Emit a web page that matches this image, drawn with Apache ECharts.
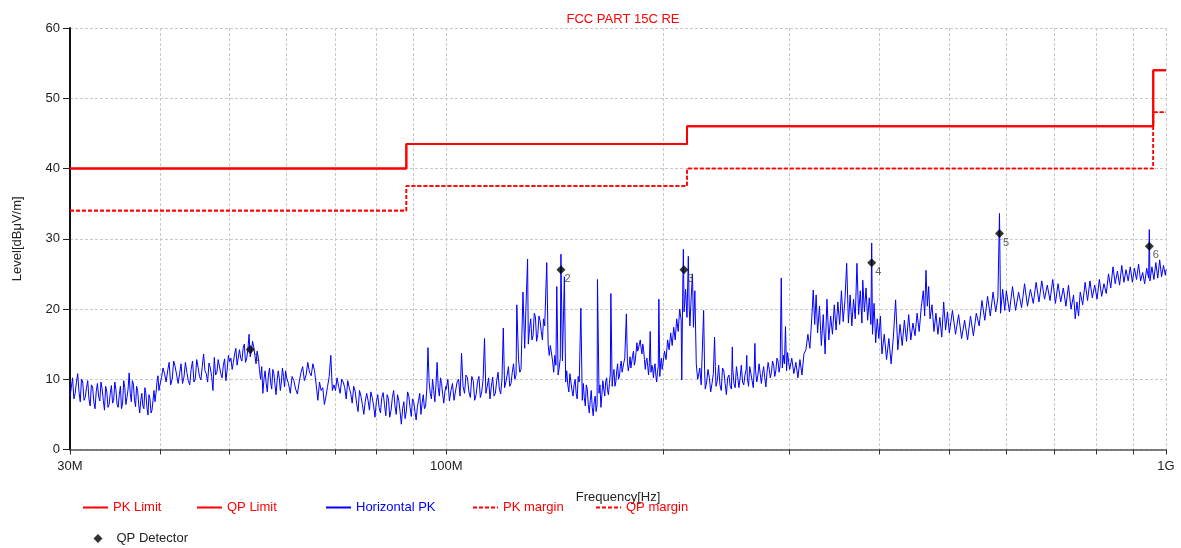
<!DOCTYPE html>
<html>
<head>
<meta charset="utf-8">
<script src="https://cdn.jsdelivr.net/npm/echarts@6/dist/echarts.min.js"></script>
<style>html,body{margin:0;padding:0;background:#fff}#c{width:1181px;height:548px}</style>
</head>
<body>
<div id="c"></div>
<script>
// Frequencies in MHz, levels in dBµV/m
const pkLimit = [[30,40],[88,40],[88,43.5],[216,43.5],[216,46],[960,46],[960,54],[1000,54]];
const qpLimit = [[30,40],[88,40],[88,43.5],[216,43.5],[216,46],[960,46],[960,54],[1000,54]];
const pkMargin = [[30,34],[88,34],[88,37.5],[216,37.5],[216,40],[960,40],[960,48],[1000,48]];
const qpMargin = [[30,34],[88,34],[88,37.5],[216,37.5],[216,40],[960,40],[960,48],[1000,48]];
const qpDetector = [[53.4,14.25,'1'],[144.3,25.6,'2'],[213.9,25.6,'3'],[390,26.6,'4'],[587,30.75,'5'],[948,28.95,'6']];
const xTickValues = [30,40,50,60,70,80,90,100,200,300,400,500,600,700,800,900,1000];
const xLabelValues = [30,100,1000];
const yTicks = [0,10,20,30,40,50,60];

// Horizontal PK trace (main samples)
const horizontalPK = [
[30,7.5],[30.25,10.2],[30.5,8.0],[30.75,10.8],[31,6.8],[31.25,9.6],[31.5,7.4],[31.75,9.8],[32,6.2],[32.25,8.9],[32.5,5.8],[32.75,9.4],[33,6.9],[33.25,8.6],[33.5,5.6],[33.75,8.2],[34,6.4],[34.25,9.1],[34.5,7.0],[34.75,8.5],[35,6.0],[35.25,9.0],[35.5,6.6],[35.75,8.8],[36,7.4],[36.25,10.9],[36.5,6.8],[36.75,9.3],[37,6.1],[37.25,8.4],[37.5,5.2],[37.75,8.0],[38,5.8],[38.25,7.9],[38.5,4.9],[38.75,7.2],[39,5.6],[39.25,8.4],[39.5,8.0],[39.75,10.5],[40,9.2],
[40.4,11.6],[40.8,9.6],[41.2,12.4],[41.6,10.0],[42,11.8],[42.4,9.4],[42.8,12.2],[43.2,10.3],[43.6,11.0],[44,9.2],[44.4,12.6],[44.8,10.1],[45.2,11.7],[45.6,9.9],[46,13.6],[46.4,10.8],[46.8,12.3],[47.2,10.4],[47.6,13.1],[48,11.0],[48.4,12.6],[48.8,10.2],[49.2,12.9],[49.6,11.3],[50,12.5],
[50.4,11.4],[50.8,13.6],[51.2,12.0],[51.6,14.2],[52,12.6],[52.4,15.0],[52.8,13.0],[53.2,16.4],[53.6,14.0],[54,14.6],[54.4,12.2],[54.8,13.1],
[55.2,10.0],[55.6,8.0],[56,11.2],[56.4,8.2],[56.8,11.6],[57.2,8.6],[57.6,10.8],[58,7.8],[58.4,11.2],[58.8,8.4],[59.2,11.6],[59.6,8.9],[60,10.2],
[60.7,8.0],[61.4,9.8],[62.1,7.9],[62.8,10.9],[63.5,9.8],[64.2,12.4],[64.9,10.5],[65.6,11.2],[66.3,7.0],[67,8.4],[67.7,6.4],[68.4,9.0],[69.1,13.4],[69.8,9.2],
[70.5,10.2],[71.2,8.0],[71.9,9.6],[72.6,7.2],[73.3,8.8],[74,6.6],[74.7,8.3],[75.4,5.4],[76.1,7.6],[76.8,5.0],[77.5,8.0],[78.2,5.6],[78.9,7.4],[79.6,4.6],
[80.3,7.8],[81,5.2],[81.7,8.1],[82.4,4.8],[83.1,7.2],[83.8,5.6],[84.5,8.4],[85.2,5.0],[85.9,7.0],[86.6,3.6],[87.3,6.8],[88,5.5],[88.7,7.6],[89.4,4.7],
[90.1,6.8],[90.8,4.2],[91.5,7.0],[92.2,5.0],[92.9,7.8],[93.6,6.2],[94.3,14.5],[95,8.0],[95.7,10.0],[96.4,6.8],[97.1,12.4],[97.8,7.6],[98.5,9.4],[99.2,6.6],[99.9,9.0],
[100,8.6],[101,6.9],[102,9.4],[103,7.2],[104,10.0],[105,13.7],[106,8.0],[107,10.2],[108,7.4],[109,9.8],[110,7.8],[111,10.4],[112,8.2],[113,15.8],[114,9.0],[115,7.2],[116,10.3],[117,8.0],[118,11.0],[119,7.9],[120,17.3],[121,9.6],[122,11.8],[123,9.4],[124,12.2],[125,10.6],[125.3,20.6],[126,12.8],[127,11.4],[127.8,22.4],[128.5,14.4],[129,20.0],[129.7,27.1],[130,15.0],[131,18.6],[132,16.2],[133,18.9],[134,16.4],[135,18.3],[136,15.6],[137,17.6],[137.9,26.6],[138.5,15.0],[139,13.4],[140,14.6],[141,11.0],[142,12.0],[142.4,23.2],[143,10.6],[144,13.0],[144.3,27.8],[145,12.6],[145.9,24.6],[146.5,9.6],[147,11.2],[148,8.2],[149,10.6],[150,7.6],[151,10.0],[152,7.2],[153,9.6],[153.8,20.1],[154.5,7.0],[155,9.4],[156,6.2],[157,8.6],[158,5.2],[159,8.4],[160,4.8],[161,7.6],[162,6.4],[162.2,24.2],[163,8.0],[164,6.0],[165,9.8],[166,7.6],[167,10.2],[168,7.8],[169,10.8],[169.3,22.2],[170,9.0],[171,11.4],[172,9.6],[173,12.2],[174,10.4],[175,12.6],[176,10.8],[177,13.0],[177.9,19.3],[179,11.2],[180,13.2],[181,11.8],[182,14.0],[183,12.6],[184,15.2],[185,13.8],[186,15.6],[187,13.6],[188,14.2],[189,11.4],[190,13.0],[191,10.6],[192,16.8],[193,12.0],[194,10.2],[195,12.2],[196,9.6],[197,11.8],[197.4,21.4],[198,10.4],[199,13.0],[200,12.2],
[201,14.0],[202,12.8],[203,15.6],[204,14.2],[205,16.6],[206,14.8],[207,17.4],[208,15.6],[209,18.6],[210,16.8],[211,20.0],[212,18.4],[212.4,9.9],[213,21.6],[213.5,28.5],[214,19.6],[215,22.8],[216,18.8],[216.9,27.5],[217.5,20.4],[218,17.6],[219,22.0],[219.8,25.0],[220.5,17.4],[221.5,22.6],[222.5,12.2],[223.5,10.0],[225,11.6],[226,9.2],[227.8,19.8],[229,8.6],[231,11.4],[233,8.2],[235,10.8],[235.9,16.0],[237,9.0],[239,12.0],[241,8.4],[243,11.2],[245,7.8],[247,10.6],[249,8.6],[249.7,14.6],[251,9.4],[253,11.8],[255,8.8],[257,12.0],[259,9.2],[261,11.4],[261.5,13.4],[263,9.0],[265,11.6],[267,8.8],[268.4,15.1],[270,9.6],[272,12.2],[274,9.4],[276,11.8],[278,8.9],[280,12.4],[282,10.2],[284,12.6],[286,10.4],[288,13.0],[290,11.0],[292,24.4],[293,11.6],[294,13.4],[296,17.5],[297,11.2],[298,13.8],[300,11.4],
[302,13.0],[304,10.8],[306,12.4],[308,10.2],[310,12.8],[312,10.6],[314,13.6],[316,14.2],[318,16.4],[320,14.4],[322,18.8],[323.5,22.7],[325,17.8],[326.5,22.0],[328,16.6],[330,20.4],[332,14.8],[334,19.2],[336,13.6],[338,21.4],[340,15.6],[342,19.0],[344,16.4],[346,20.6],[348,17.0],[350,21.0],[352,17.8],[354,22.6],[356,18.2],[358,21.2],[360,26.5],[362,18.0],[364,22.0],[366,17.6],[368,21.4],[370,18.6],[372,26.5],[374,19.2],[376,22.6],[378,18.0],[379,24.1],[381,19.6],[383,23.0],[385,18.4],[387,21.6],[389,17.8],[390,29.4],[391,16.4],[393,20.8],[395,15.2],[397,18.6],[399,15.8],[401,19.0],
[403,13.6],[406,16.4],[409,12.8],[412,15.8],[415,12.2],[418,16.0],[421,21.3],[424,14.2],[427,17.8],[430,14.8],[433,18.4],[436,15.4],[439,19.2],[442,15.6],[445,18.0],[448,16.2],[451,19.4],[454,16.8],[457,20.2],[460,22.6],[462,19.0],[464,25.5],[466,20.4],[468,23.2],[470,18.6],[473,20.6],[476,16.8],[479,19.4],[482,16.4],[485,18.8],[488,16.0],[491,21.0],[494,17.0],[497,19.6],[500,16.6],
[505,19.8],[510,16.4],[515,19.2],[520,15.8],[525,18.4],[530,15.6],[535,19.0],[540,16.2],[545,19.4],[550,17.6],[555,21.2],[560,18.4],[565,21.8],[570,19.0],[575,22.4],[580,19.6],[584,21.6],[587,33.6],[589,19.4],[593,22.8],[597,19.8],
[600,22.6],[606,19.6],[612,23.2],[618,19.8],[624,22.4],[630,20.2],[636,23.6],[642,20.4],[648,22.8],[654,20.8],[660,23.8],[666,21.0],[672,24.0],[678,21.4],[684,23.4],[690,21.2],[696,24.2],[702,20.8],[708,23.6],[714,21.0],[720,23.0],[726,20.4],[732,23.4],[738,20.0],[744,22.0],[748,18.6],[752,21.0],[756,19.0],[760,22.4],[766,20.6],[772,23.8],[778,21.2],[784,24.0],[790,21.6],[796,23.4],[802,21.4],[808,24.2],[814,21.8],[820,23.6],[826,22.2],[832,25.0],[838,23.0],[844,26.0],[850,23.6],[856,25.4],[862,23.4],[868,26.2],[874,23.8],[880,25.6],[886,24.0],[892,26.0],[898,23.8],[904,25.8],[910,24.2],[916,26.4],[922,24.0],[928,25.2],[934,23.6],[940,25.8],[946,24.4],[948,31.3],[950,24.0],[956,26.0],[962,24.2],[968,26.6],[974,24.4],[980,27.0],[986,24.6],[992,26.2],[998,24.8],[1000,25.6]
];

// Extra in-between samples of the same trace (denser noise band)
const horizontalPKExtra = [
[30.125,8.8],[30.375,7.2],[30.625,9.6],[30.875,8.2],[31.125,10.0],[31.375,7.0],[31.625,8.8],[31.875,7.2],[32.125,9.2],[32.375,6.8],[32.625,8.2],[32.875,7.6],[33.125,9.6],[33.375,7.0],[33.625,9.0],[33.875,6.0],[34.125,8.0],[34.375,6.6],[34.625,9.6],[34.875,6.4],[35.125,7.8],[35.375,5.8],[35.625,9.8],[35.875,6.4],[36.125,8.6],[36.375,8.0],[36.625,9.8],[36.875,7.0],[37.125,9.0],[37.375,6.4],[37.625,7.0],[37.875,6.2],[38.125,8.8],[38.375,6.0],[38.625,7.8],[38.875,5.2],[39.125,7.0],[39.375,6.8],[39.625,9.6],[39.875,8.4],
[40.2,10.2],[40.6,10.8],[41.0,11.2],[41.4,9.2],[41.8,12.6],[42.2,10.6],[42.6,10.8],[43.0,9.4],[43.4,12.4],[43.8,9.8],[44.2,11.4],[44.6,9.6],[45.0,12.8],[45.4,10.4],[45.8,11.8],[46.2,11.2],[46.6,9.6],[47.0,11.6],[47.4,8.4],[47.8,10.6],[48.2,12.8],[48.6,10.8],[49.0,12.0],[49.4,9.8],[49.8,13.4],
[50.2,13.0],[50.6,12.4],[51.0,14.4],[51.4,11.8],[51.8,13.0],[52.2,14.4],[52.6,12.4],[53.0,14.2],[53.4,13.2],[53.8,15.4],[54.2,13.4],[54.6,14.0],[55.0,11.4],
[55.4,11.8],[55.8,10.0],[56.2,9.4],[56.6,10.6],[57.0,9.6],[57.4,11.4],[57.8,9.2],[58.2,9.8],[58.6,10.2],[59.0,9.6],[59.4,10.4],[59.8,11.2],
[60.35,9.4],[61.05,10.4],[61.75,8.6],[62.45,9.6],[63.15,11.8],[63.85,10.6],[64.55,11.0],[65.25,12.2],[65.95,9.2],[66.65,9.6],[67.35,8.8],[68.05,7.6],[68.75,10.4],[69.45,8.4],
[70.15,8.4],[70.85,9.0],[71.55,10.0],[72.25,8.8],[72.95,9.8],[73.65,8.0],[74.35,9.0],[75.05,6.6],[75.75,8.4],[76.45,6.4],[77.15,6.8],[77.85,7.0],[78.55,8.2],[79.25,6.2],[79.95,6.8],
[80.65,6.0],[81.35,7.4],[82.05,6.4],[82.75,7.8],[83.45,4.6],[84.15,7.4],[84.85,6.2],[85.55,7.8],[86.25,5.4],[86.95,5.8],[87.65,4.4],[88.35,8.2],[89.05,6.0],[89.75,7.2],
[90.45,5.4],[91.15,6.0],[91.85,8.0],[92.55,6.6],[93.25,5.8],[93.95,8.6],[94.65,9.6],[95.35,7.2],[96.05,8.4],[96.75,9.2],[97.45,8.8],[98.15,10.2],[98.85,7.8],[99.55,8.2],
[100.5,10.0],[101.5,8.4],[102.5,7.0],[103.5,9.6],[104.5,7.6],[105.5,9.0],[106.5,10.6],[107.5,8.2],[108.5,10.4],[109.5,7.0],[110.5,9.6],[111.5,7.4],[112.5,10.0],[113.5,8.0],[114.5,10.2],[115.5,9.0],[116.5,7.6],[117.5,9.8],[118.5,8.6],[119.5,10.0],[120.5,8.8],[121.5,10.6],[122.5,9.0],[123.5,11.0],[124.5,10.0],
[126.5,11.0],[130.5,17.2],[131.5,15.6],[132.5,19.4],[133.5,15.4],[134.5,19.0],[135.5,16.8],[136.5,18.6],[139.5,14.8],[140.5,12.6],[141.5,13.4],[143.5,11.6],[147.5,9.2],[148.5,10.8],[149.5,8.4],[150.5,9.2],[151.5,8.0],[152.5,10.4],[155.5,7.4],[156.5,9.2],[157.5,6.4],[158.5,7.0],[159.5,6.0],[160.5,6.8],[161.5,5.4],[163.5,9.2],[164.5,7.8],[165.5,8.6],[166.5,9.6],[167.5,8.4],[168.5,9.4],[170.5,10.6],[171.5,9.0],[172.5,11.2],[173.5,10.0],[174.5,11.8],[175.5,11.0],[176.5,12.4],[178.5,12.4],[179.5,12.0],[180.5,11.6],[181.5,13.4],[182.5,12.0],[183.5,13.8],[184.5,14.0],[185.5,15.0],[186.5,14.4],[187.5,15.0],[188.5,12.8],[189.5,12.6],[190.5,11.8],[191.5,12.4],[192.5,11.0],[193.5,11.6],[194.5,11.6],[195.5,10.6],[196.5,11.0],[198.5,12.2],[199.5,11.4],
[224,10.4],[228.5,11.2],[230,9.6],[232,10.2],[234,9.4],[236.5,11.8],[238,9.8],[240,9.2],[242,11.6],[244,9.4],[246,10.2],[248,9.0],[250,11.6],[252,8.8],[254,10.4],[256,10.2],[258,9.6],[260,10.6],[262,10.2],[264,11.8],[266,9.8],[267.7,11.0],[269,11.2],[271,10.6],[273,10.8],[275,10.8],[277,10.2],[279,11.0],[281,11.4],[283,11.0],[285,12.0],[287,11.2],[289,12.6],[291,12.0],[295,12.2],[299,12.4]
];

const trace = horizontalPK.concat(horizontalPKExtra).sort((a, b) => a[0] - b[0]);

const FONT = 'Liberation Sans, Arial, sans-serif';
const RED = '#ff0000';
const BLUE = '#0000ff';

const chart = echarts.init(document.getElementById('c'), null, {renderer: 'canvas'});

function legendItem(name, left, top, color) {
  return {
    data: [name], left: left, top: top, orient: 'horizontal',
    itemWidth: 25, itemHeight: 14, itemGap: 0, padding: 0,
    selectedMode: false,
    itemStyle: {opacity: 0},
    textStyle: {color: color, fontSize: 13, fontFamily: FONT}
  };
}

const option = {
  animation: false,
  backgroundColor: '#fff',
  title: {
    text: 'FCC PART 15C RE', left: 618, top: 8, textAlign: 'center',
    textStyle: {color: RED, fontSize: 13, fontWeight: 'normal', fontFamily: FONT}
  },
  grid: {left: 70, right: 15, top: 28, bottom: 98.5, containLabel: false},
  legend: [
    legendItem('PK Limit', 82, 501, RED),
    legendItem('QP Limit', 196, 501, RED),
    legendItem('Horizontal PK', 325, 501, BLUE),
    legendItem('PK margin', 472, 501, RED),
    legendItem('QP margin', 595, 501, RED),
    {
      data: [{name: 'QP Detector', icon: 'diamond'}], left: 93.5, top: 532, orient: 'horizontal',
      itemWidth: 9, itemHeight: 9, itemGap: 0, padding: 0, selectedMode: false,
      textStyle: {color: '#222', fontSize: 13, fontFamily: FONT, padding: [0, 0, 0, 9]}
    }
  ],
  xAxis: {
    type: 'log', logBase: 10, min: 30, max: 1000,
    name: 'Frequency[Hz]', nameLocation: 'middle', nameGap: 41,
    nameTextStyle: {color: '#222', fontSize: 13, fontFamily: FONT},
    axisLine: {show: true, onZero: false, lineStyle: {color: '#555', width: 1.5}},
    axisTick: {show: true, length: 5, customValues: xTickValues, lineStyle: {color: '#333', width: 1}},
    axisLabel: {
      customValues: xLabelValues, margin: 10, color: '#222', fontSize: 13, fontFamily: FONT,
      formatter: v => (v >= 1000 ? (v / 1000) + 'G' : v + 'M')
    },
    splitLine: {show: true, lineStyle: {color: '#c8c8c8', type: [3, 2], width: 1}},
    minorTick: {show: false}, minorSplitLine: {show: false}
  },
  yAxis: {
    type: 'value', min: 0, max: 60, interval: 10,
    name: 'Level[dBμV/m]', nameLocation: 'middle', nameGap: 46,
    nameTextStyle: {color: '#222', fontSize: 13, fontFamily: FONT},
    axisLine: {show: true, lineStyle: {color: '#111', width: 2}},
    axisTick: {show: true, length: 7, lineStyle: {color: '#222', width: 1}},
    axisLabel: {margin: 10, color: '#222', fontSize: 13, fontFamily: FONT,
      formatter: v => (yTicks.indexOf(v) >= 0 ? String(v) : '')},
    splitLine: {show: true, lineStyle: {color: '#c8c8c8', type: [3, 2], width: 1}}
  },
  series: [
    {name: 'Horizontal PK', type: 'line', data: trace, symbol: 'none', z: 2,
      lineStyle: {color: BLUE, width: 1}, itemStyle: {color: BLUE}},
    {name: 'PK Limit', type: 'line', data: pkLimit, symbol: 'none', z: 3,
      lineStyle: {color: RED, width: 2}, itemStyle: {color: RED}},
    {name: 'QP Limit', type: 'line', data: qpLimit, symbol: 'none', z: 3,
      lineStyle: {color: RED, width: 2}, itemStyle: {color: RED}},
    {name: 'PK margin', type: 'line', data: pkMargin, symbol: 'none', z: 3,
      lineStyle: {color: RED, width: 1.6, type: [4, 2]}, itemStyle: {color: RED}},
    {name: 'QP margin', type: 'line', data: qpMargin, symbol: 'none', z: 3,
      lineStyle: {color: RED, width: 1.6, type: [4, 2]}, itemStyle: {color: RED}},
    {name: 'QP Detector', type: 'scatter', z: 5,
      data: qpDetector.map(d => ({value: [d[0], d[1]], label: {formatter: d[2]}})),
      symbol: 'diamond', symbolSize: 9, itemStyle: {color: '#000'},
      label: {show: true, position: 'right', offset: [-6, 9], color: '#333', fontSize: 11, fontFamily: FONT}}
  ]
};
chart.setOption(option);
</script>
</body>
</html>
